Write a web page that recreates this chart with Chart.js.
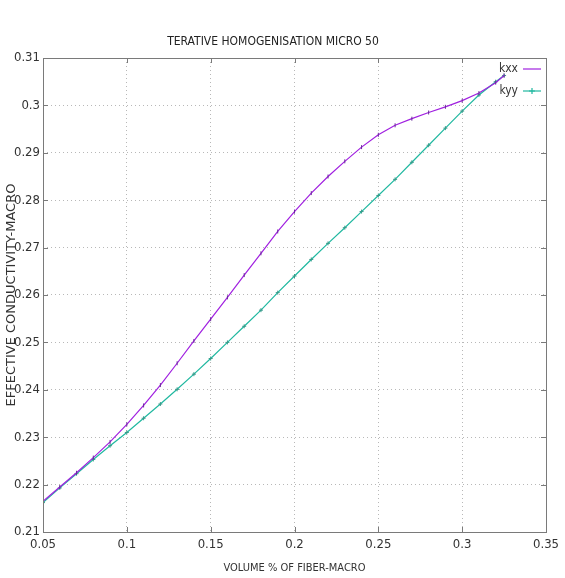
<!DOCTYPE html>
<html>
<head>
<meta charset="utf-8">
<title>Iterative homogenisation</title>
<script src="https://cdn.jsdelivr.net/npm/chart.js@4.4.1/dist/chart.umd.min.js"></script>
<style>
  html, body { margin: 0; padding: 0; background: #ffffff; }
  canvas { display: block; }
</style>
</head>
<body>
<canvas id="chart" width="565" height="578"></canvas>
<script>
// Fibre volume fraction (macro) and the effective conductivities
const volumeFraction = [0.05, 0.06, 0.07, 0.08, 0.09, 0.10, 0.11, 0.12, 0.13, 0.14,
                        0.15, 0.16, 0.17, 0.18, 0.19, 0.20, 0.21, 0.22, 0.23, 0.24,
                        0.25, 0.26, 0.27, 0.28, 0.29, 0.30, 0.31, 0.32, 0.325];
const kxx = [0.2165, 0.2195, 0.2225, 0.2257, 0.2290, 0.2327, 0.2367, 0.2410, 0.2456, 0.2503,
             0.2549, 0.2595, 0.2642, 0.2688, 0.2734, 0.2776, 0.2815, 0.2850, 0.2882, 0.2912,
             0.2938, 0.2958, 0.2972, 0.2985, 0.2997, 0.3010, 0.3026, 0.3048, 0.3063];
const kyy = [0.2162, 0.2193, 0.2223, 0.2253, 0.2282, 0.2310, 0.2340, 0.2370, 0.2401, 0.2433,
             0.2466, 0.2500, 0.2534, 0.2568, 0.2605, 0.2640, 0.2675, 0.2709, 0.2742, 0.2776,
             0.2810, 0.2844, 0.2880, 0.2916, 0.2952, 0.2988, 0.3022, 0.3050, 0.3063];
const seriesNames = ['kxx', 'kyy'];
const seriesColors = ['#a020e0', '#20b8a0'];
const xTickValues = [0.05, 0.1, 0.15, 0.2, 0.25, 0.3, 0.35];
const yTickValues = [0.21, 0.22, 0.23, 0.24, 0.25, 0.26, 0.27, 0.28, 0.29, 0.3, 0.31];

// Condensed face requested through the font shorthand (weight + stretch)
const narrowFamily = "'DejaVu Sans', 'Liberation Sans', sans-serif";
const narrowWeight = 'normal condensed';
const frameColor = '#7a7a7a';

function toPoints(xs, ys) {
  return xs.map((x, i) => ({ x: x, y: ys[i] }));
}

// Frame around the plot, inward tick marks on all four sides
const framePlugin = {
  id: 'frame',
  afterDatasetsDraw(chart) {
    const { ctx, chartArea: a, scales } = chart;
    ctx.save();
    ctx.strokeStyle = frameColor;
    ctx.lineWidth = 1;
    ctx.strokeRect(a.left + 0.5, a.top + 0.5, a.right - a.left, a.bottom - a.top);
    ctx.beginPath();
    xTickValues.forEach(v => {
      const px = Math.round(scales.x.getPixelForValue(v)) + 0.5;
      ctx.moveTo(px, a.bottom); ctx.lineTo(px, a.bottom - 5);
      ctx.moveTo(px, a.top); ctx.lineTo(px, a.top + 5);
    });
    yTickValues.forEach(v => {
      const py = Math.round(scales.y.getPixelForValue(v)) + 0.5;
      ctx.moveTo(a.left, py); ctx.lineTo(a.left + 5, py);
      ctx.moveTo(a.right, py); ctx.lineTo(a.right - 5, py);
    });
    ctx.stroke();
    ctx.restore();
  }
};

// Key in the upper right corner of the plot
const keyPlugin = {
  id: 'key',
  afterDatasetsDraw(chart) {
    const { ctx, chartArea: a } = chart;
    ctx.save();
    ctx.font = narrowWeight + " 12px " + narrowFamily;
    ctx.textAlign = 'right';
    ctx.textBaseline = 'middle';
    chart.data.datasets.forEach((ds, i) => {
      const y = a.top + 11 + i * 22;
      const textRight = a.right - 28;
      ctx.fillStyle = '#333333';
      ctx.fillText(ds.label, textRight, y);
      ctx.strokeStyle = ds.borderColor;
      ctx.lineWidth = 1.2;
      ctx.beginPath();
      ctx.moveTo(textRight + 5, y);
      ctx.lineTo(a.right - 5, y);
      ctx.stroke();
      if (i === 1) {
        const cx = (textRight + 5 + a.right - 5) / 2;
        ctx.beginPath();
        ctx.moveTo(cx - 3, y); ctx.lineTo(cx + 3, y);
        ctx.moveTo(cx, y - 3); ctx.lineTo(cx, y + 3);
        ctx.stroke();
      }
    });
    ctx.restore();
  }
};

new Chart(document.getElementById('chart'), {
  type: 'line',
  data: {
    datasets: [
      {
        label: seriesNames[0],
        data: toPoints(volumeFraction, kxx),
        borderColor: seriesColors[0],
        backgroundColor: seriesColors[0],
        borderWidth: 1.2,
        pointStyle: 'line',
        rotation: 90,
        pointRadius: 2,
        pointBorderColor: '#6a2a9a',
        pointBorderWidth: 1,
        tension: 0,
        fill: false
      },
      {
        label: seriesNames[1],
        data: toPoints(volumeFraction, kyy),
        borderColor: seriesColors[1],
        backgroundColor: seriesColors[1],
        borderWidth: 1.2,
        pointStyle: 'cross',
        pointRadius: 2,
        pointBorderColor: '#3a9a8a',
        pointBorderWidth: 1,
        tension: 0,
        fill: false
      }
    ]
  },
  options: {
    responsive: false,
    animation: false,
    devicePixelRatio: 1,
    layout: { padding: { left: 0, right: 19, top: 0, bottom: 0 } },
    plugins: {
      legend: { display: false },
      tooltip: { enabled: false },
      title: {
        display: true,
        text: 'TERATIVE HOMOGENISATION MICRO 50',
        color: '#222222',
        font: { family: narrowFamily, size: 12, weight: narrowWeight },
        padding: { top: 35, bottom: 8.6 }
      }
    },
    scales: {
      x: {
        type: 'linear',
        min: 0.05,
        max: 0.35,
        afterBuildTicks(scale) { scale.ticks = xTickValues.map(v => ({ value: v })); },
        afterFit(scale) { scale.height = 46; },
        border: { display: false, dash: [1, 3] },
        grid: {
          color: '#b8b8b8',
          lineWidth: 1,
          drawTicks: false
        },
        ticks: {
          padding: 5,
          color: '#333333',
          font: { family: narrowFamily, size: 13, weight: narrowWeight },
          callback: v => String(Number(v.toFixed(2)))
        },
        title: {
          display: true,
          text: 'VOLUME % OF FIBER-MACRO',
          color: '#333333',
          font: { family: narrowFamily, size: 11, weight: narrowWeight },
          padding: { top: 0, bottom: 3 }
        }
      },
      y: {
        type: 'linear',
        min: 0.21,
        max: 0.31,
        afterBuildTicks(scale) { scale.ticks = yTickValues.map(v => ({ value: v })); },
        afterFit(scale) { scale.width = 43; },
        border: { display: false, dash: [1, 3] },
        grid: {
          color: '#b8b8b8',
          lineWidth: 1,
          drawTicks: false
        },
        ticks: {
          padding: 3,
          color: '#333333',
          font: { family: narrowFamily, size: 13, weight: narrowWeight },
          callback: v => String(Number(v.toFixed(2)))
        },
        title: {
          display: true,
          text: 'EFFECTIVE CONDUCTIVITY-MACRO',
          color: '#333333',
          font: { family: "'DejaVu Sans', sans-serif", size: 13 },
          padding: { top: 4, bottom: 0 }
        }
      }
    }
  },
  plugins: [framePlugin, keyPlugin]
});
</script>
</body>
</html>
